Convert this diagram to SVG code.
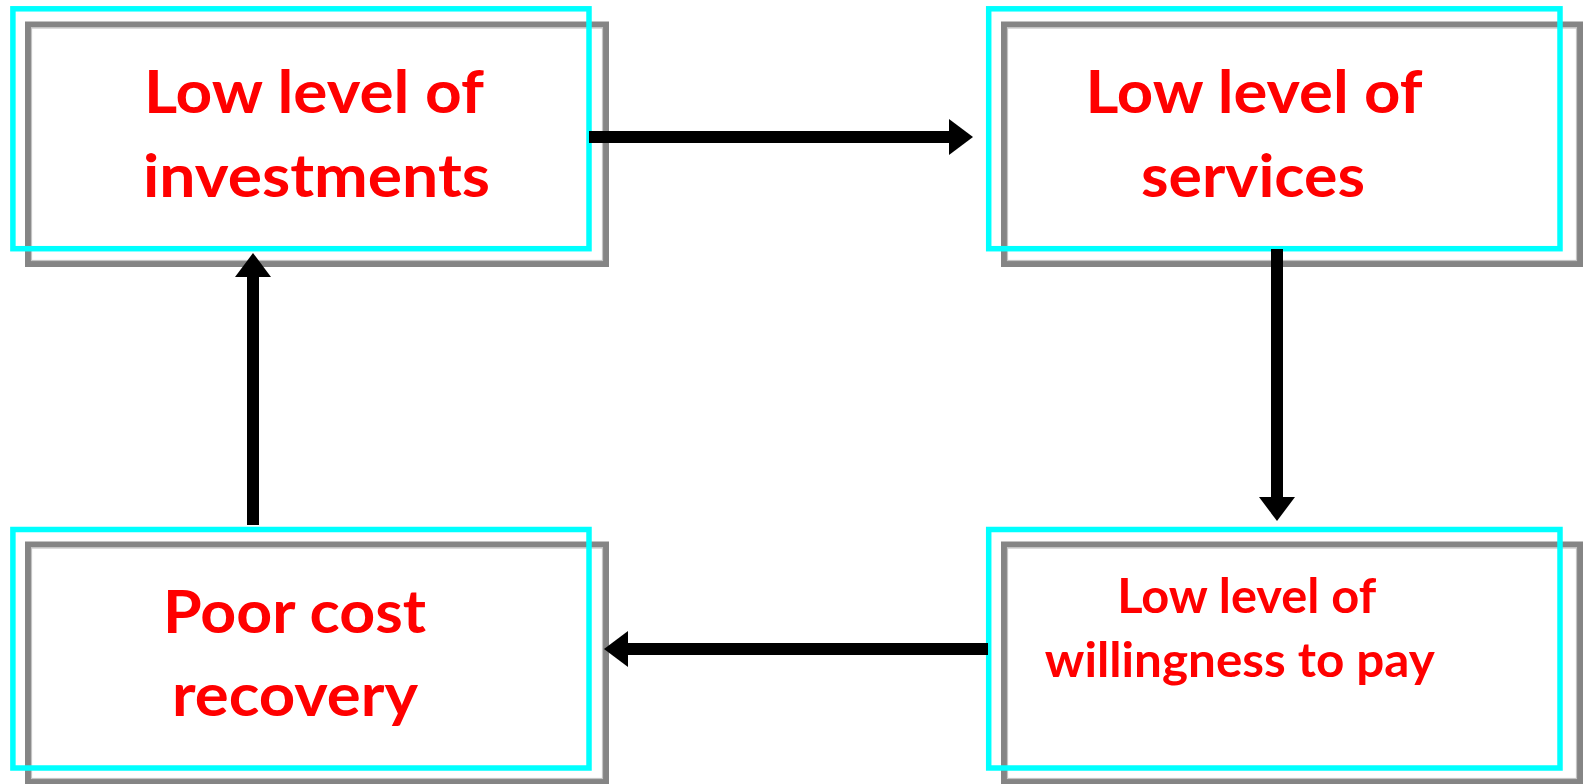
<svg xmlns="http://www.w3.org/2000/svg" width="1585" height="784" viewBox="0 0 1585 784">
  <style>
    .shadow { fill: #ffffff; stroke: #858585; stroke-width: 6; }
    .shadow-in { fill: none; stroke: #c4c4c4; stroke-width: 1.2; }
    .frame { fill: none; stroke: #00ffff; stroke-width: 5.5; }
    .lbl { font-family: Lato, "Open Sans", "Liberation Sans", sans-serif; font-weight: bold; fill: #ff0000; text-anchor: middle; }
    .big { font-size: 60px; }
    .small { font-size: 47.5px; }
    .conn { stroke: #000000; stroke-width: 12; fill: none; }
    .head { fill: #000000; }
  </style>
  <rect width="1585" height="784" fill="#ffffff"/>

  <g id="node-investments">
    <rect class="shadow" x="28" y="24.5" width="578" height="239.5"/>
    <rect class="shadow-in" x="31.5" y="28" width="571" height="232.5"/>
    <rect class="frame" x="12.9" y="8.8" width="576.1" height="239.9"/>
    <text class="lbl big" x="314" y="113" textLength="340" lengthAdjust="spacingAndGlyphs">Low level of</text>
    <text class="lbl big" x="316.5" y="197" textLength="347" lengthAdjust="spacingAndGlyphs">investments</text>
  </g>

  <g id="node-services">
    <rect class="shadow" x="1004" y="24.5" width="576" height="239.5"/>
    <rect class="shadow-in" x="1007.5" y="28" width="569" height="232.5"/>
    <rect class="frame" x="988.7" y="8.8" width="571.3" height="239.9"/>
    <text class="lbl big" x="1254" y="113" textLength="337" lengthAdjust="spacingAndGlyphs">Low level of</text>
    <text class="lbl big" x="1253" y="197" textLength="224" lengthAdjust="spacingAndGlyphs">services</text>
  </g>

  <g id="node-recovery">
    <rect class="shadow" x="28" y="544.5" width="578" height="237.5"/>
    <rect class="shadow-in" x="31.5" y="548" width="571" height="230.5"/>
    <rect class="frame" x="12.9" y="529.5" width="576.1" height="238.5"/>
    <text class="lbl big" x="294.5" y="633" textLength="263" lengthAdjust="spacingAndGlyphs">Poor cost</text>
    <text class="lbl big" x="295" y="716" textLength="246" lengthAdjust="spacingAndGlyphs">recovery</text>
  </g>

  <g id="node-willingness">
    <rect class="shadow" x="1004" y="544.5" width="576" height="237.5"/>
    <rect class="shadow-in" x="1007.5" y="548" width="569" height="230.5"/>
    <rect class="frame" x="988.7" y="529.5" width="571.3" height="238.5"/>
    <text class="lbl small" x="1246.7" y="613" textLength="259" lengthAdjust="spacingAndGlyphs">Low level of</text>
    <text class="lbl small" x="1239.8" y="677" textLength="390" lengthAdjust="spacingAndGlyphs">willingness to pay</text>
  </g>

  <g id="connectors">
    <line class="conn" x1="589" y1="137" x2="950" y2="137"/>
    <polygon class="head" points="949,119 973,137 949,155"/>
    <line class="conn" x1="1277" y1="249" x2="1277" y2="498"/>
    <polygon class="head" points="1259,497 1295,497 1277,521"/>
    <line class="conn" x1="988" y1="649" x2="627" y2="649"/>
    <polygon class="head" points="628,631 604,649 628,667"/>
    <line class="conn" x1="253" y1="525" x2="253" y2="276"/>
    <polygon class="head" points="235,277 271,277 253,253"/>
  </g>
</svg>
